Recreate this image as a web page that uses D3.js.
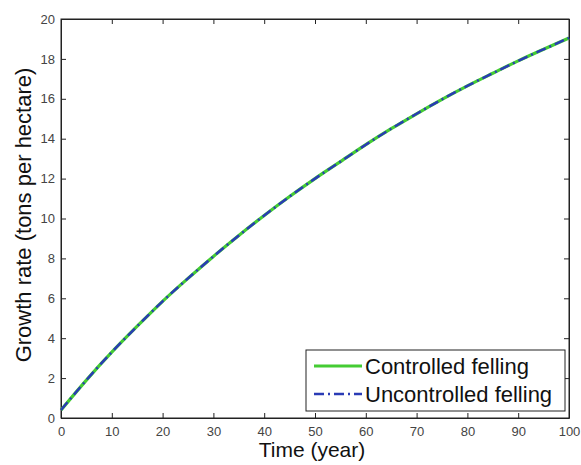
<!DOCTYPE html>
<html>
<head>
<meta charset="utf-8">
<style>
    body { margin: 0; background: white; }
    svg { font-family: Arial, 'Liberation Sans', sans-serif; }
</style>
</head>
<body>
<svg width="581" height="465"></svg>
<script src="https://d3js.org/d3.v7.min.js"></script>
<script>
    // data
    let years = [0, 5, 10, 15, 20, 25, 30, 35, 40, 45, 50, 55, 60, 65, 70, 75, 80, 85, 90, 95, 100]
    let controlled = [0.4, 1.9, 3.3, 4.6, 5.85, 7.0, 8.1, 9.15, 10.15, 11.1, 12.0, 12.85, 13.7, 14.5, 15.25, 15.97, 16.65, 17.28, 17.9, 18.48, 19.05]
    let uncontrolled = [0.4, 1.9, 3.3, 4.6, 5.85, 7.0, 8.1, 9.15, 10.15, 11.1, 12.0, 12.85, 13.7, 14.5, 15.25, 15.97, 16.65, 17.28, 17.9, 18.48, 19.05]
    let xTicks = [0, 10, 20, 30, 40, 50, 60, 70, 80, 90, 100]
    let yTicks = [0, 2, 4, 6, 8, 10, 12, 14, 16, 18, 20]
    let seriesNames = ["Controlled felling", "Uncontrolled felling"]

    let margin = { left: 61, right: 12, top: 19, bottom: 47 }
    let width = 581, height = 465

    let svg = d3.select("svg")

    let x = d3.scaleLinear().domain([0, 100]).range([margin.left, width - margin.right])
    let y = d3.scaleLinear().domain([0, 20]).range([height - margin.bottom, margin.top])

    // box
    svg.append("rect")
        .attr("x", x(0)).attr("y", y(20))
        .attr("width", x(100) - x(0)).attr("height", y(0) - y(20))
        .attr("fill", "white").attr("stroke", "#222").attr("stroke-width", 1)

    // axes, ticks inward on all sides (matlab style)
    let tickLen = 5
    svg.append("g").attr("transform", "translate(0," + y(0) + ")")
        .call(d3.axisBottom(x).tickValues(xTicks).tickSizeInner(-tickLen).tickSizeOuter(0).tickPadding(9))
    svg.append("g").attr("transform", "translate(0," + y(20) + ")")
        .call(d3.axisTop(x).tickValues(xTicks).tickSizeInner(-tickLen).tickSizeOuter(0).tickFormat(""))
    svg.append("g").attr("transform", "translate(" + x(0) + ",0)")
        .call(d3.axisLeft(y).tickValues(yTicks).tickSizeInner(-tickLen).tickSizeOuter(0).tickPadding(6))
    svg.append("g").attr("transform", "translate(" + x(100) + ",0)")
        .call(d3.axisRight(y).tickValues(yTicks).tickSizeInner(-tickLen).tickSizeOuter(0).tickFormat(""))

    svg.selectAll(".domain").attr("stroke", "#222")
    svg.selectAll(".tick line").attr("stroke", "#222")
    svg.selectAll(".tick text").attr("fill", "#444").style("font-size", "13px")

    // lines
    let data = years.map((d, i) => ({ x: d, c: controlled[i], u: uncontrolled[i] }))
    let lineC = d3.line().x(d => x(d.x)).y(d => y(d.c)).curve(d3.curveNatural)
    let lineU = d3.line().x(d => x(d.x)).y(d => y(d.u)).curve(d3.curveNatural)

    let dashDot = "10,4,2,4"

    svg.append("path").datum(data)
        .attr("d", lineC).attr("fill", "none")
        .attr("stroke", "#44cc33").attr("stroke-width", 3.2)

    svg.append("path").datum(data)
        .attr("d", lineU).attr("fill", "none")
        .attr("stroke", "#2a3bb5").attr("stroke-width", 2.5)
        .attr("stroke-dasharray", dashDot)

    // legend
    let lg = svg.append("g")
    lg.append("rect")
        .attr("x", 306).attr("y", 350).attr("width", 259).attr("height", 61)
        .attr("fill", "white").attr("stroke", "#222").attr("stroke-width", 1)

    let legColors = ["#44cc33", "#2a3bb5"]
    let legDash = [null, dashDot]
    let legWidth = [3.2, 2.5]
    seriesNames.forEach((name, i) => {
        let ly = 366 + i * 28
        lg.append("line")
            .attr("x1", 314).attr("x2", 362).attr("y1", ly).attr("y2", ly)
            .attr("stroke", legColors[i]).attr("stroke-width", legWidth[i])
            .attr("stroke-dasharray", legDash[i])
        lg.append("text")
            .attr("x", 365).attr("y", ly + 8)
            .style("font-size", "22px").attr("fill", "#111")
            .text(name)
    })

    // axis titles
    svg.append("text")
        .attr("x", 312).attr("y", 457)
        .attr("text-anchor", "middle")
        .style("font-size", "21px").attr("fill", "#111")
        .text("Time (year)")

    svg.append("text")
        .attr("transform", "translate(31,215) rotate(-90)")
        .attr("text-anchor", "middle")
        .style("font-size", "22px").attr("fill", "#111")
        .text("Growth rate (tons per hectare)")
</script>
</body>
</html>
